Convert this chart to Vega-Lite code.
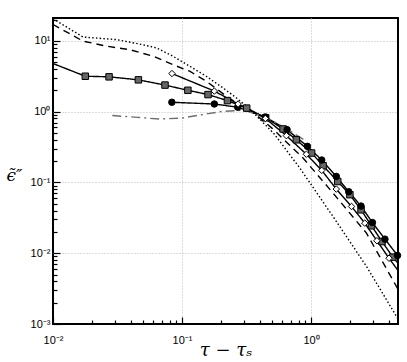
{
  "$schema": "https://vega.github.io/schema/vega-lite/v6.json",
  "width": 345,
  "height": 306,
  "autosize": {"type": "none"},
  "padding": {"left": 53, "top": 18, "right": 9, "bottom": 38},
  "background": "white",
  "view": {"stroke": "black", "strokeWidth": 2},
  "config": {
    "font": "Liberation Sans",
    "axis": {"labelFont": "Liberation Sans", "labelFontSize": 11, "labelColor": "black", "domain": false, "tickColor": "black", "tickWidth": 1.2, "gridColor": "#bbbbbb", "gridDash": [1, 2], "gridWidth": 1}
  },
  "data": {
    "values": [
      {"s": "sq", "x": 0.01, "y": 4.78},
      {"s": "sq", "x": 0.0178, "y": 3.16},
      {"s": "sq", "x": 0.0272, "y": 3.1},
      {"s": "sq", "x": 0.0459, "y": 2.81},
      {"s": "sq", "x": 0.0738, "y": 2.37},
      {"s": "sq", "x": 0.111, "y": 2.0},
      {"s": "sq", "x": 0.159, "y": 1.74},
      {"s": "sq", "x": 0.225, "y": 1.43},
      {"s": "sq", "x": 0.317, "y": 1.12},
      {"s": "sq", "x": 0.445, "y": 0.818},
      {"s": "sq", "x": 0.607, "y": 0.569},
      {"s": "sq", "x": 0.769, "y": 0.4},
      {"s": "sq", "x": 1.01, "y": 0.26},
      {"s": "sq", "x": 1.24, "y": 0.172},
      {"s": "sq", "x": 1.61, "y": 0.103},
      {"s": "sq", "x": 2.0, "y": 0.067},
      {"s": "sq", "x": 2.44, "y": 0.041},
      {"s": "sq", "x": 2.94, "y": 0.0244},
      {"s": "sq", "x": 3.55, "y": 0.0146},
      {"s": "sq", "x": 4.31, "y": 0.0088},
      {"s": "sq", "x": 4.72, "y": 0.0072},
      {"s": "circ", "x": 0.0834, "y": 1.355},
      {"s": "circ", "x": 0.178, "y": 1.28},
      {"s": "circ", "x": 0.27, "y": 1.155},
      {"s": "circ", "x": 0.443, "y": 0.84},
      {"s": "circ", "x": 0.652, "y": 0.556},
      {"s": "circ", "x": 0.937, "y": 0.323},
      {"s": "circ", "x": 1.21, "y": 0.207},
      {"s": "circ", "x": 1.57, "y": 0.1215},
      {"s": "circ", "x": 1.96, "y": 0.0738},
      {"s": "circ", "x": 2.44, "y": 0.0463},
      {"s": "circ", "x": 2.99, "y": 0.0271},
      {"s": "circ", "x": 3.74, "y": 0.0158},
      {"s": "circ", "x": 4.68, "y": 0.0093},
      {"s": "dia", "x": 0.0836, "y": 3.45},
      {"s": "dia", "x": 0.178, "y": 1.95},
      {"s": "dia", "x": 0.272, "y": 1.28},
      {"s": "dia", "x": 0.443, "y": 0.8},
      {"s": "dia", "x": 0.644, "y": 0.457},
      {"s": "dia", "x": 0.92, "y": 0.25},
      {"s": "dia", "x": 1.21, "y": 0.148},
      {"s": "dia", "x": 1.57, "y": 0.0805},
      {"s": "dia", "x": 2.06, "y": 0.0457},
      {"s": "dia", "x": 2.61, "y": 0.0266},
      {"s": "dia", "x": 3.24, "y": 0.015},
      {"s": "dia", "x": 4.02, "y": 0.0085},
      {"s": "dia", "x": 4.72, "y": 0.0057},
      {"s": "dash", "x": 0.01, "y": 17.0},
      {"s": "dash", "x": 0.0171, "y": 9.9},
      {"s": "dash", "x": 0.026, "y": 8.4},
      {"s": "dash", "x": 0.0393, "y": 7.5},
      {"s": "dash", "x": 0.0598, "y": 6.06},
      {"s": "dash", "x": 0.085, "y": 4.6},
      {"s": "dash", "x": 0.1146, "y": 3.72},
      {"s": "dash", "x": 0.154, "y": 2.69},
      {"s": "dash", "x": 0.221, "y": 1.65},
      {"s": "dash", "x": 0.264, "y": 1.33},
      {"s": "dash", "x": 0.35, "y": 1.0},
      {"s": "dash", "x": 0.5, "y": 0.58},
      {"s": "dash", "x": 0.867, "y": 0.221},
      {"s": "dash", "x": 1.48, "y": 0.0707},
      {"s": "dash", "x": 2.69, "y": 0.0192},
      {"s": "dash", "x": 4.72, "y": 0.0031},
      {"s": "dot", "x": 0.01, "y": 20.5},
      {"s": "dot", "x": 0.0171, "y": 11.3},
      {"s": "dot", "x": 0.031, "y": 10.4},
      {"s": "dot", "x": 0.047, "y": 9.0},
      {"s": "dot", "x": 0.0632, "y": 7.96},
      {"s": "dot", "x": 0.085, "y": 6.06},
      {"s": "dot", "x": 0.1146, "y": 4.38},
      {"s": "dot", "x": 0.154, "y": 3.16},
      {"s": "dot", "x": 0.208, "y": 2.16},
      {"s": "dot", "x": 0.264, "y": 1.56},
      {"s": "dot", "x": 0.33, "y": 1.12},
      {"s": "dot", "x": 0.52, "y": 0.48},
      {"s": "dot", "x": 0.817, "y": 0.16},
      {"s": "dot", "x": 1.48, "y": 0.033},
      {"s": "dot", "x": 2.69, "y": 0.0065},
      {"s": "dot", "x": 4.72, "y": 0.00118},
      {"s": "dd", "x": 0.0288, "y": 0.88},
      {"s": "dd", "x": 0.045, "y": 0.83},
      {"s": "dd", "x": 0.067, "y": 0.785},
      {"s": "dd", "x": 0.1, "y": 0.81},
      {"s": "dd", "x": 0.14, "y": 0.9},
      {"s": "dd", "x": 0.2, "y": 1.0},
      {"s": "dd", "x": 0.3, "y": 1.05},
      {"s": "dd", "x": 0.45, "y": 0.83},
      {"s": "dd", "x": 0.67, "y": 0.55},
      {"s": "dd", "x": 0.92, "y": 0.38}
    ]
  },
  "encoding": {
    "x": {
      "field": "x", "type": "quantitative",
      "scale": {"type": "log", "domain": [0.01, 4.72], "nice": false},
      "axis": {
        "values": [0.01, 0.02, 0.03, 0.04, 0.05, 0.06, 0.07, 0.08, 0.09, 0.1, 0.2, 0.3, 0.4, 0.5, 0.6, 0.7, 0.8, 0.9, 1, 2, 3, 4],
        "labelExpr": "datum.value == 0.01 ? '10⁻²' : datum.value == 0.1 ? '10⁻¹' : datum.value == 1 ? '10⁰' : ''",
        "tickSize": {"condition": {"test": "datum.value == 0.01 || datum.value == 0.1 || datum.value == 1", "value": -7}, "value": -4},
        "labelPadding": 17,
        "labelFlush": false,
        "labelOverlap": false,
        "grid": true,
        "gridOpacity": {"condition": {"test": "datum.value == 0.1 || datum.value == 1", "value": 1}, "value": 0},
        "title": "τ − τₛ",
        "titleFont": "DejaVu Serif",
        "titleFontStyle": "italic",
        "titleFontWeight": "normal",
        "titleFontSize": 18,
        "titleBaseline": "alphabetic",
        "titleY": 31
      }
    },
    "y": {
      "field": "y", "type": "quantitative",
      "scale": {"type": "log", "domain": [0.001, 21], "nice": false},
      "axis": {
        "values": [0.001, 0.002, 0.003, 0.004, 0.005, 0.006, 0.007, 0.008, 0.009, 0.01, 0.02, 0.03, 0.04, 0.05, 0.06, 0.07, 0.08, 0.09, 0.1, 0.2, 0.3, 0.4, 0.5, 0.6, 0.7, 0.8, 0.9, 1, 2, 3, 4, 5, 6, 7, 8, 9, 10, 20],
        "labelExpr": "datum.value == 0.001 ? '10⁻³' : datum.value == 0.01 ? '10⁻²' : datum.value == 0.1 ? '10⁻¹' : datum.value == 1 ? '10⁰' : datum.value == 10 ? '10¹' : ''",
        "tickSize": {"condition": {"test": "datum.value == 0.001 || datum.value == 0.01 || datum.value == 0.1 || datum.value == 1 || datum.value == 10", "value": -7}, "value": -4},
        "labelPadding": 10,
        "labelFlush": false,
        "labelOverlap": false,
        "grid": true,
        "gridOpacity": {"condition": {"test": "datum.value == 0.01 || datum.value == 0.1 || datum.value == 1 || datum.value == 10", "value": 1}, "value": 0},
        "title": "ϵ̃″",
        "titleFont": "DejaVu Serif",
        "titleFontStyle": "italic",
        "titleFontWeight": "normal",
        "titleFontSize": 17,
        "titleAngle": 0,
        "titleAlign": "center",
        "titleBaseline": "middle",
        "titleX": -39,
        "titleY": 157
      }
    }
  },
  "layer": [
    {
      "mark": {"type": "line", "clip": true, "strokeWidth": 1.4},
      "encoding": {
        "detail": {"field": "s"},
        "color": {"field": "s", "type": "nominal", "legend": null,
          "scale": {"domain": ["sq", "circ", "dia", "dash", "dot", "dd"], "range": ["black", "black", "black", "black", "black", "#6e6e6e"]}},
        "strokeDash": {"field": "s", "type": "nominal", "legend": null,
          "scale": {"domain": ["sq", "circ", "dia", "dash", "dot", "dd"], "range": [[1, 0], [1, 0], [1, 0], [7, 5], [1.5, 2.2], [9, 4, 2, 4]]}}
      }
    },
    {
      "transform": [{"filter": "(datum.s == 'sq' || datum.s == 'circ' || datum.s == 'dia') && datum.x > 0.011 && datum.x < 4.7"}],
      "mark": {"type": "point", "filled": true, "stroke": "black", "strokeWidth": 1, "opacity": 1},
      "encoding": {
        "shape": {"field": "s", "type": "nominal", "legend": null,
          "scale": {"domain": ["sq", "circ", "dia"], "range": ["square", "circle", "diamond"]}},
        "fill": {"field": "s", "type": "nominal", "legend": null,
          "scale": {"domain": ["sq", "circ", "dia"], "range": ["#666666", "black", "white"]}},
        "size": {"value": 42}
      }
    }
  ]
}
